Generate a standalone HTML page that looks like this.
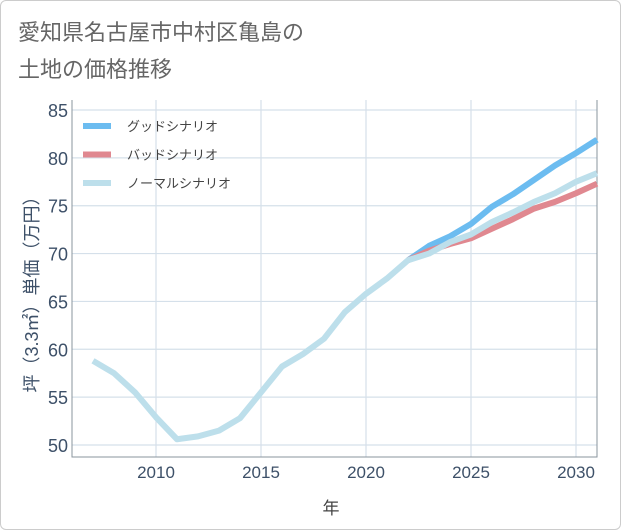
<!DOCTYPE html>
<html><head><meta charset="utf-8"><style>
body{margin:0;background:#fff;}
#card{position:absolute;left:0;top:0;width:619px;height:528px;border:1px solid #ccc;border-radius:6px;background:#fff;}
svg{position:absolute;left:0;top:0;font-family:"Liberation Sans","Noto Sans CJK JP",sans-serif;}
</style></head><body>
<div id="card"></div>
<svg id="chart" width="621" height="530">
<text x="18" y="40" font-size="22" fill="#666">愛知県名古屋市中村区亀島の</text>
<text x="18" y="77" font-size="22" fill="#666">土地の価格推移</text>
<g id="grid"></g><g id="series"></g><g id="legend"></g>
<text x="331" y="514" font-size="17" fill="#444" text-anchor="middle">年</text>
<text transform="translate(38,290) rotate(-90)" font-size="18" fill="#3d5068" text-anchor="middle">坪（3.3㎡）単価（万円）</text>
</svg>
<script>
const years=[2007,2008,2009,2010,2011,2012,2013,2014,2015,2016,2017,2018,2019,2020,2021,2022,2023,2024,2025,2026,2027,2028,2029,2030,2031];
const normal=[58.8,57.5,55.5,52.9,50.6,50.9,51.5,52.8,55.5,58.2,59.5,61.1,63.9,65.8,67.4,69.3,70.0,71.2,72.0,73.3,74.3,75.4,76.3,77.5,78.4];
const futureYears=[2022,2023,2024,2025,2026,2027,2028,2029,2030,2031];
const good=[69.3,70.8,71.8,73.1,74.9,76.2,77.7,79.2,80.5,81.9];
const bad=[69.3,70.3,71.0,71.6,72.6,73.6,74.7,75.4,76.3,77.3];
const yTicks=[50,55,60,65,70,75,80,85];
const xTicks=[2010,2015,2020,2025,2030];
const NS="http://www.w3.org/2000/svg";
const L=72,R=597,T=100,B=457;
const x=v=>156+(v-2010)*21;
const y=v=>445-(v-50)*(335/35);
function mk(tag,attrs,parent){const e=document.createElementNS(NS,tag);for(const k in attrs)e.setAttribute(k,attrs[k]);parent.appendChild(e);return e;}
const grid=document.getElementById('grid');
yTicks.forEach(t=>{
 const l=mk('line',{x1:L,x2:R,y1:y(t),y2:y(t),stroke:'#d5e0ea','stroke-width':1.2},grid);
 
 
 const tx=mk('text',{x:L-4,y:y(t)+7,'font-size':18,fill:'#3d5068','text-anchor':'end'},grid);
 tx.textContent=t;
 
 
});
xTicks.forEach(t=>{
 const l=mk('line',{x1:x(t),x2:x(t),y1:T,y2:B,stroke:'#d5e0ea','stroke-width':1.2},grid);
 
 
 const tx=mk('text',{x:x(t),y:B+21,'font-size':17,fill:'#3d5068','text-anchor':'middle'},grid);
 tx.textContent=t;
 
 
});
const frame=mk('path',{d:`M${L},${T}V${B}H${R}V${T}`,fill:'none',stroke:'#8a949e','stroke-width':1},grid);


const ser=document.getElementById('series');
function line(xs,vs,color,name){
 const p=mk('polyline',{points:xs.map((v,i)=>x(v)+','+y(vs[i])).join(' '),fill:'none',stroke:color,'stroke-width':6,'stroke-linejoin':'round'},ser);
 
 
}
line(futureYears,good,'#6cbcf0','good-scenario-line');
line(futureYears,bad,'#e08890','bad-scenario-line');
line(years,normal,'#bddfeb','normal-scenario-line');
const leg=document.getElementById('legend');
[['グッドシナリオ','#6cbcf0'],['バッドシナリオ','#e08890'],['ノーマルシナリオ','#bddfeb']].forEach((d,i)=>{
 const yy=126+i*28.5;
 const g=mk('g',{},leg);
 
 
 mk('line',{x1:83,x2:111,y1:yy,y2:yy,stroke:d[1],'stroke-width':6},g);
 const t=mk('text',{x:127,y:yy+5,'font-size':13,fill:'#444'},g);
 t.textContent=d[0];
});
</script>
</body></html>
